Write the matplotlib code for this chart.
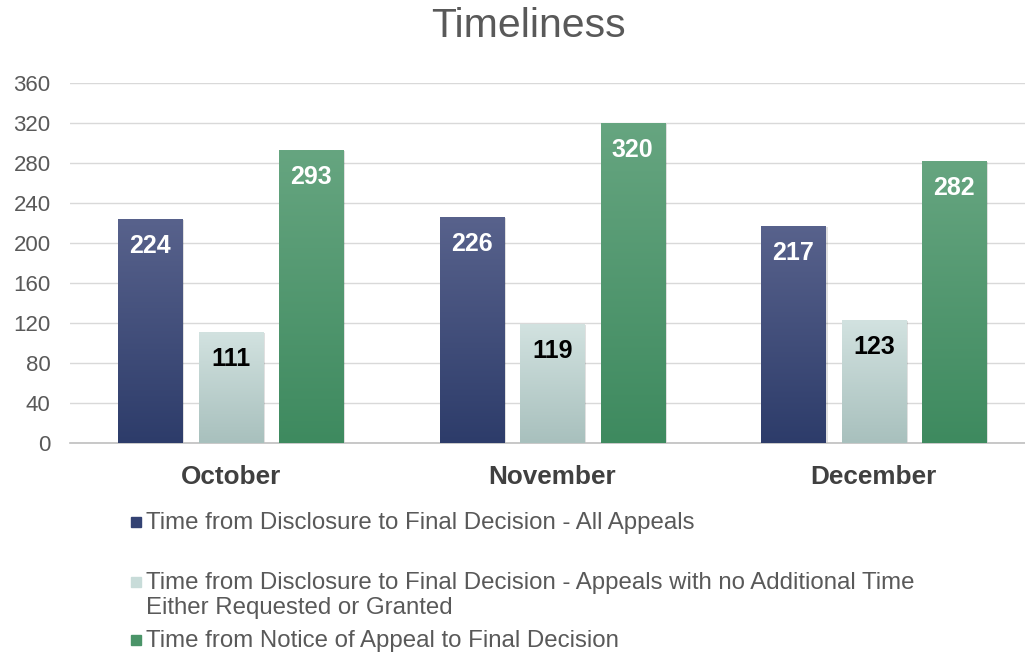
import matplotlib
matplotlib.use("Agg")
import matplotlib.pyplot as plt
import numpy as np
from matplotlib.patches import Rectangle
from matplotlib.colors import LinearSegmentedColormap

plt.rcParams['font.family'] = ['Liberation Sans', 'DejaVu Sans']

months = ["October", "November", "December"]
series_names = [
    "Time from Disclosure to Final Decision - All Appeals",
    "Time from Disclosure to Final Decision - Appeals with no Additional Time\nEither Requested or Granted",
    "Time from Notice of Appeal to Final Decision",
]
all_appeals = [224, 226, 217]
no_extra_time = [111, 119, 123]
notice_to_final = [293, 320, 282]
y_ticks = [0, 40, 80, 120, 160, 200, 240, 280, 320, 360]

series = [all_appeals, no_extra_time, notice_to_final]
grads = [("#2d3c6a", "#58628c"), ("#a8c0bd", "#d2e2e0"), ("#3e8a5f", "#66a580")]
legend_colors = ["#334273", "#c8dcd9", "#4a9468"]
label_colors = ["white", "black", "white"]

fig = plt.figure(figsize=(10.25, 6.55), dpi=100)
ax = fig.add_axes([0.0683, 0.3237, 0.9317, 0.5496])
ax.set_xlim(-0.5, 2.47)
ax.set_ylim(0, 360)

width = 0.2
offsets = [-0.25, 0.0, 0.25]
x = np.arange(len(months))
grad = np.linspace(0, 1, 256).reshape(-1, 1)
for vals, off, (c0, c1), lc in zip(series, offsets, grads, label_colors):
    cmap = LinearSegmentedColormap.from_list("g", [c0, c1])
    bars = ax.bar(x + off, vals, width, color="none", edgecolor="none", zorder=3)
    for b, v in zip(bars, vals):
        x0 = b.get_x()
        # shadow
        ax.add_patch(Rectangle((x0 + 0.006, 0), width, v - 1.5, color="#000000", alpha=0.12, zorder=2.5, lw=0))
        im = ax.imshow(grad, extent=[x0, x0 + width, 0, v], origin="lower", cmap=cmap,
                       aspect="auto", zorder=3, interpolation="bilinear")
        im.set_clip_path(b)
        ax.text(x0 + width / 2, v - 25, str(v), ha="center", va="center_baseline", color=lc,
                fontsize=18, fontweight="bold", zorder=4)

ax.set_yticks(y_ticks)
ax.set_xticks(x)
ax.set_xticklabels(months, fontsize=18.8, fontweight="bold", color="#404040")
ax.tick_params(axis="y", labelsize=16, labelcolor="#595959", length=0, pad=14)
ax.tick_params(axis="x", length=0, pad=16)
ax.grid(axis="y", color="#d9d9d9", lw=1, zorder=0)
ax.set_axisbelow(True)
for s in ["top", "right", "left"]:
    ax.spines[s].set_visible(False)
ax.spines["bottom"].set_color("#bfbfbf")
ax.spines["bottom"].set_linewidth(1.2)

fig.text(528 / 1025, 1 - 26 / 655, "Timeliness", ha="center", va="center", fontsize=29.5, color="#595959")

# legend (first-line y positions in pixels from top)
leg_y_px = [522, 582, 640]
for name, col, ypx in zip(series_names, legend_colors, leg_y_px):
    yf = 1 - ypx / 655
    fig.patches.append(Rectangle((131 / 1025, yf - 5 / 655), 10 / 1025, 10 / 655,
                                 transform=fig.transFigure, color=col, figure=fig))
    fig.text(146 / 1025, yf + 10 / 655, name, ha="left", va="top", fontsize=17.3, color="#595959",
             linespacing=1.15)

fig.savefig("out.png", dpi=100)
